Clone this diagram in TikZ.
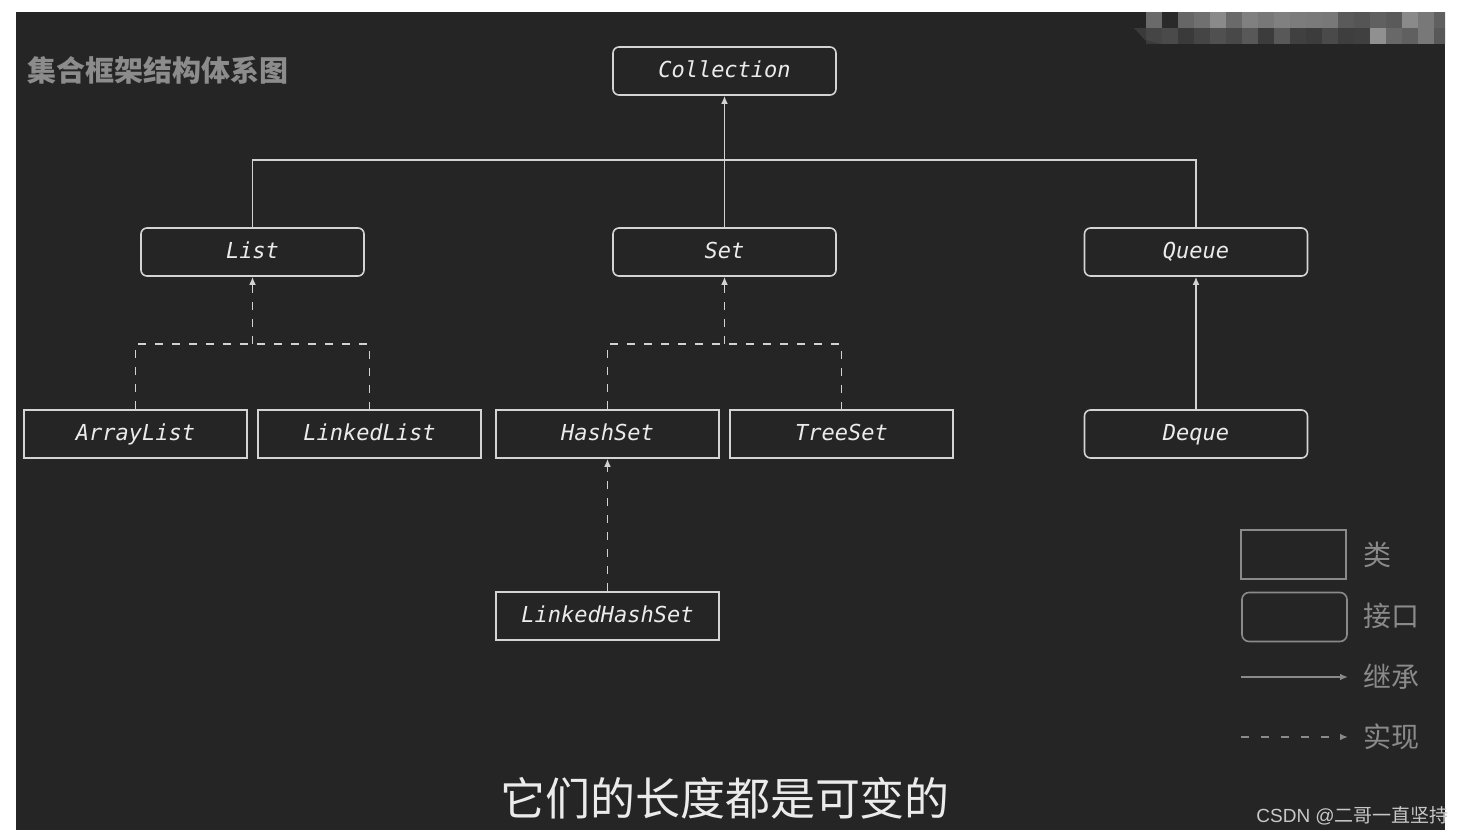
\documentclass[tikz,border=0pt]{standalone}
\usepackage{fontspec}
\setmainfont{DejaVu Sans}
\newfontfamily\mono{DejaVu Sans Mono}
\newfontfamily\cjk{Noto Sans CJK SC}
\newfontfamily\wmfont{Liberation Sans}
\usetikzlibrary{arrows.meta}
\definecolor{bgc}{RGB}{37,37,37}
\definecolor{boxc}{RGB}{212,212,212}
\definecolor{linec}{RGB}{210,210,210}
\definecolor{txtc}{RGB}{235,235,235}
\definecolor{legc}{RGB}{138,138,138}
\definecolor{titc}{RGB}{140,140,140}
\definecolor{wmc}{RGB}{200,200,200}
\begin{document}
\begin{tikzpicture}[x=0.5pt,y=-0.5pt,
  iface/.style={draw=boxc, line width=0.8pt, rounded corners=3pt, minimum width=111.5pt, minimum height=24pt, inner sep=0pt, text height=8.2pt, text depth=2.2pt, font=\mono\itshape\fontsize{11}{13}\selectfont, text=txtc},
  cls/.style={iface, sharp corners},
  line/.style={draw=linec, line width=0.8pt},
  inh/.style={line, -{Latex[length=4pt,width=3.4pt]}},
  impl/.style={inh, dash pattern=on 4pt off 4.5pt},
  leg/.style={draw=legc, line width=0.8pt, minimum width=52.5pt, minimum height=24.5pt, inner sep=0pt},
  legtxt/.style={anchor=west, text=legc, font=\cjk\fontsize{14}{16}\selectfont, inner sep=0pt},
]
\useasboundingbox (0,0) rectangle (1464,836);
\fill[white] (0,0) rectangle (1464,836);
\fill[bgc] (16,12) rectangle (1445,830);
% pixelated watermark
\begin{scope}
\clip (1100,12) rectangle (1445,44);
\foreach \i/\g in {0/106,1/42,2/102,3/112,4/138,5/106,6/128,7/120,8/128,9/124,10/122,11/120,12/90,13/85,14/96,15/90,16/138,17/120,18/96}
  {\fill[fill={rgb,255:red,\g;green,\g;blue,\g}] ({1146+16*\i},12) rectangle ({1162+16*\i},28);}
\foreach \i/\g in {0/69,1/74,2/58,3/69,4/80,5/72,6/88,7/60,8/88,9/64,10/60,11/74,12/62,13/64,14/144,15/104,16/96,17/120,18/88}
  {\fill[fill={rgb,255:red,\g;green,\g;blue,\g}] ({1146+16*\i},28) rectangle ({1162+16*\i},44);}
\fill[fill={rgb,255:red,58;green,58;blue,58}] (1134,28) -- (1146,28) -- (1146,44) -- (1160,44) -- (1145,40) -- cycle;
\end{scope}

% title
\node[anchor=west, text=titc, font=\cjk\bfseries\fontsize{14.5}{16}\selectfont, inner sep=0pt] (title) at (27,70) {集合框架结构体系图};

% nodes
\node[iface] (Collection) at (724.5,71) {Collection};
\node[iface] (List) at (252.5,252) {List};
\node[iface] (Set) at (724.5,252) {Set};
\node[iface] (Queue) at (1196,252) {Queue};
\node[cls] (ArrayList) at (135.5,434) {ArrayList};
\node[cls] (LinkedList) at (369.5,434) {LinkedList};
\node[cls] (HashSet) at (607.5,434) {HashSet};
\node[cls] (TreeSet) at (841.5,434) {TreeSet};
\node[iface] (Deque) at (1196,434) {Deque};
\node[cls] (LinkedHashSet) at (607.5,616) {LinkedHashSet};

% connectors
\coordinate (cj) at (724.5,160);
\draw[line] (List.north) |- (cj) -| (Queue.north);
\draw[inh] (Set.north) -- (Collection.south);
\coordinate (lj) at (252.5,344);
\draw[line, dash pattern=on 4pt off 4.5pt] (ArrayList.north) |- (lj) -| (LinkedList.north);
\draw[impl] (lj) -- (List.south);
\coordinate (sj) at (724.5,344);
\draw[line, dash pattern=on 4pt off 4.5pt] (HashSet.north) |- (sj) -| (TreeSet.north);
\draw[impl] (sj) -- (Set.south);
\draw[impl] (LinkedHashSet.north) -- (HashSet.south);
\draw[inh] (Deque.north) -- (Queue.south);

% legend
\node[leg] (lcls) at (1293.5,554.5) {};
\node[leg, rounded corners=3.5pt] (lif) at (1294.5,617) {};
\coordinate (la1) at (1241,677);
\coordinate (la2) at (1348,677);
\coordinate (lb1) at (1241,737);
\coordinate (lb2) at (1348,737);
\draw[draw=legc, line width=0.8pt, -{Latex[length=4pt,width=3.4pt]}] (la1) -- (la2);
\draw[draw=legc, line width=0.8pt, dash pattern=on 4pt off 6pt, -{Latex[length=4pt,width=3.4pt]}] (lb1) -- (lb2);
\node[legtxt] (t1) at (1363,555) {类};
\node[legtxt] (t2) at (1363,616) {接口};
\node[legtxt] (t3) at (1363,677) {继承};
\node[legtxt] (t4) at (1363,737) {实现};

% subtitle
\node[text=txtc, font=\cjk\fontsize{22.5}{26}\selectfont, inner sep=0pt] (sub) at (725,798) {它们的长度都是可变的};

% watermark
\node[anchor=west, text=wmc, inner sep=0pt, font=\fontsize{9.5}{11}\selectfont] (wm) at (1256,816) {\wmfont CSDN @\cjk 二哥一直坚持};
\end{tikzpicture}
\end{document}
